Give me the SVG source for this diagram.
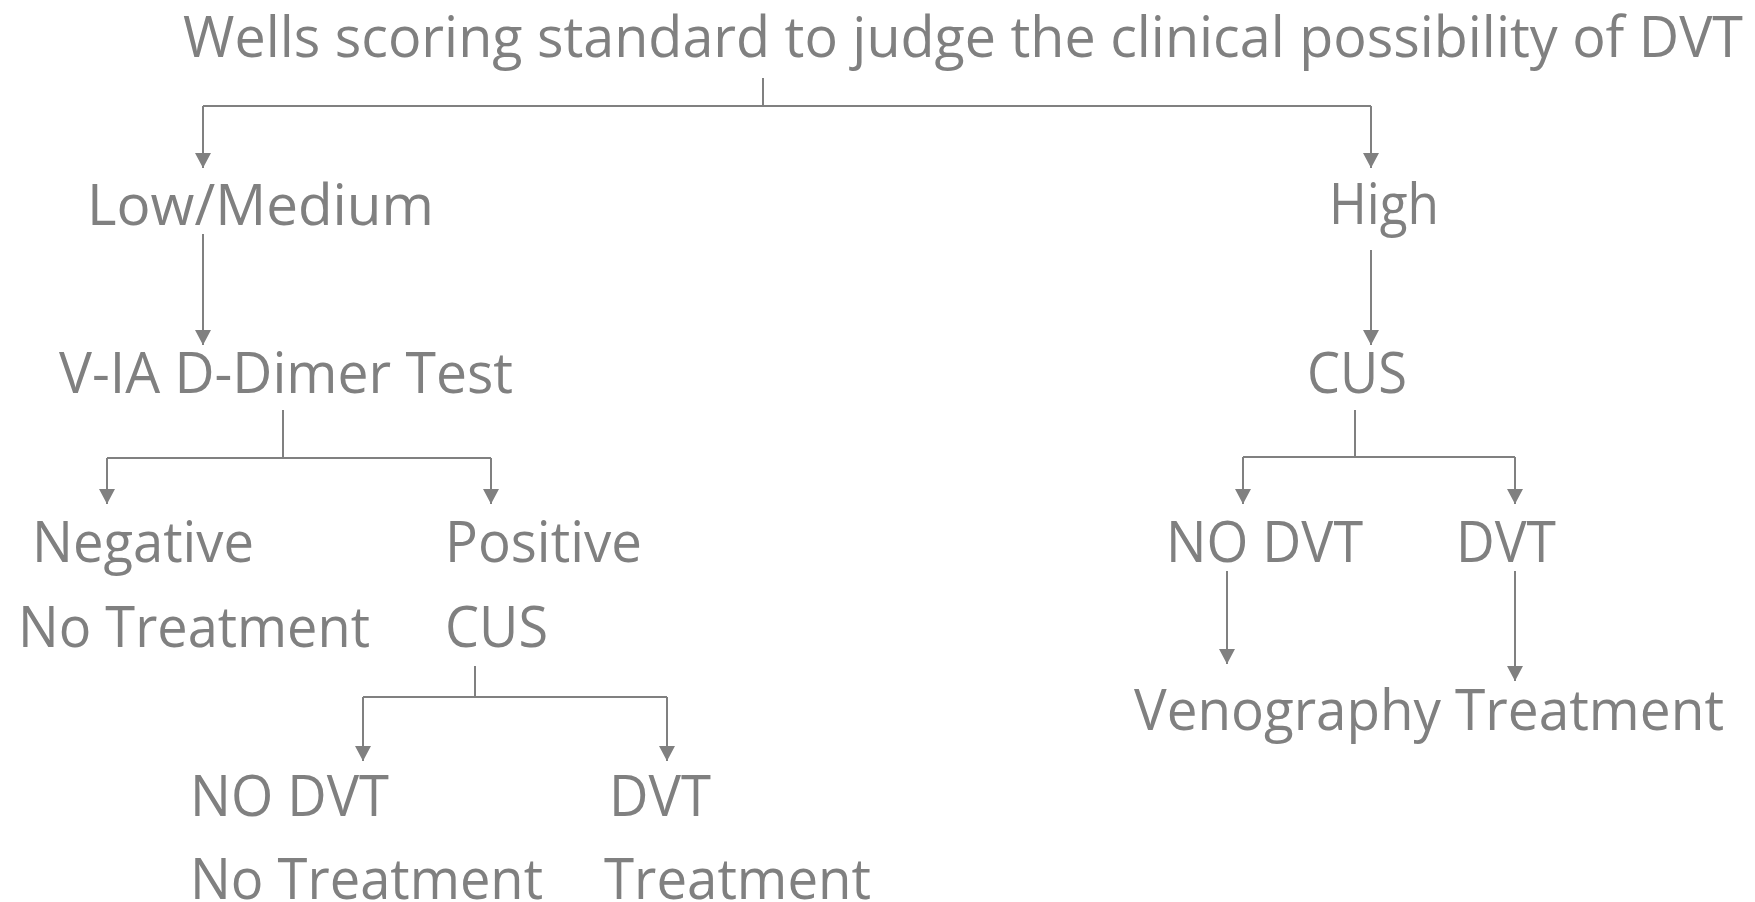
<svg xmlns="http://www.w3.org/2000/svg" width="1755" height="902" viewBox="0 0 1755 902">
  <style>
    .t { font-family: "Open Sans", "Noto Sans", "Liberation Sans", sans-serif; font-size: 57px; fill: #808080; }
    .c { stroke: #808080; stroke-width: 2; fill: none; }
    .a { stroke: #808080; stroke-width: 2; fill: none; marker-end: url(#arr); }
  </style>
  <defs>
    <marker id="arr" markerUnits="userSpaceOnUse" markerWidth="16" markerHeight="18" viewBox="0 -9 16 18" refX="15" refY="0" orient="auto">
      <path d="M0,-8 L15,0 L0,8 z" fill="#808080"/>
    </marker>
  </defs>
  <rect width="1755" height="902" fill="#ffffff"/>

  <g id="connectors">
    <path class="c" d="M763,78 V106 M203,106 H1371"/>
    <path class="a" d="M203,106 V168"/>
    <path class="a" d="M1371,106 V168"/>
    <path class="a" d="M203,234 V345"/>
    <path class="a" d="M1371,250 V345"/>
    <path class="c" d="M283,410 V458 M107,458 H491"/>
    <path class="a" d="M107,458 V504"/>
    <path class="a" d="M491,458 V504"/>
    <path class="c" d="M1355,410 V457 M1243,457 H1515"/>
    <path class="a" d="M1243,457 V504"/>
    <path class="a" d="M1515,457 V504"/>
    <path class="c" d="M475,666 V697 M363,697 H667"/>
    <path class="a" d="M363,697 V761"/>
    <path class="a" d="M667,697 V761"/>
    <path class="a" d="M1227,571 V664"/>
    <path class="a" d="M1515,571 V681"/>
  </g>

  <g id="title"><text class="t" x="183" y="57" textLength="1560" lengthAdjust="spacingAndGlyphs">Wells scoring standard to judge the clinical possibility of DVT</text></g>
  <g id="low-medium"><text class="t" x="87" y="225" textLength="347" lengthAdjust="spacingAndGlyphs">Low/Medium</text></g>
  <g id="high"><text class="t" x="1329" y="224" textLength="110" lengthAdjust="spacingAndGlyphs">High</text></g>
  <g id="d-dimer"><text class="t" x="59" y="393" textLength="454" lengthAdjust="spacingAndGlyphs">V-IA D-Dimer Test</text></g>
  <g id="cus-right"><text class="t" x="1307" y="393" textLength="100" lengthAdjust="spacingAndGlyphs">CUS</text></g>
  <g id="negative">
    <text class="t" x="32" y="562" textLength="222" lengthAdjust="spacingAndGlyphs">Negative</text>
    <text class="t" x="18" y="647" textLength="352" lengthAdjust="spacingAndGlyphs">No Treatment</text>
  </g>
  <g id="positive">
    <text class="t" x="445" y="562" textLength="197" lengthAdjust="spacingAndGlyphs">Positive</text>
    <text class="t" x="445" y="647" textLength="103" lengthAdjust="spacingAndGlyphs">CUS</text>
  </g>
  <g id="no-dvt-right"><text class="t" x="1166" y="562" textLength="197" lengthAdjust="spacingAndGlyphs">NO DVT</text></g>
  <g id="dvt-right"><text class="t" x="1456" y="562" textLength="100" lengthAdjust="spacingAndGlyphs">DVT</text></g>
  <g id="venography"><text class="t" x="1134" y="730" textLength="307" lengthAdjust="spacingAndGlyphs">Venography</text></g>
  <g id="treatment-right"><text class="t" x="1455" y="730" textLength="269" lengthAdjust="spacingAndGlyphs">Treatment</text></g>
  <g id="no-dvt-left">
    <text class="t" x="190" y="816" textLength="199" lengthAdjust="spacingAndGlyphs">NO DVT</text>
    <text class="t" x="190" y="899" textLength="353" lengthAdjust="spacingAndGlyphs">No Treatment</text>
  </g>
  <g id="dvt-left">
    <text class="t" x="609" y="816" textLength="102" lengthAdjust="spacingAndGlyphs">DVT</text>
    <text class="t" x="604" y="899" textLength="267" lengthAdjust="spacingAndGlyphs">Treatment</text>
  </g>
</svg>
